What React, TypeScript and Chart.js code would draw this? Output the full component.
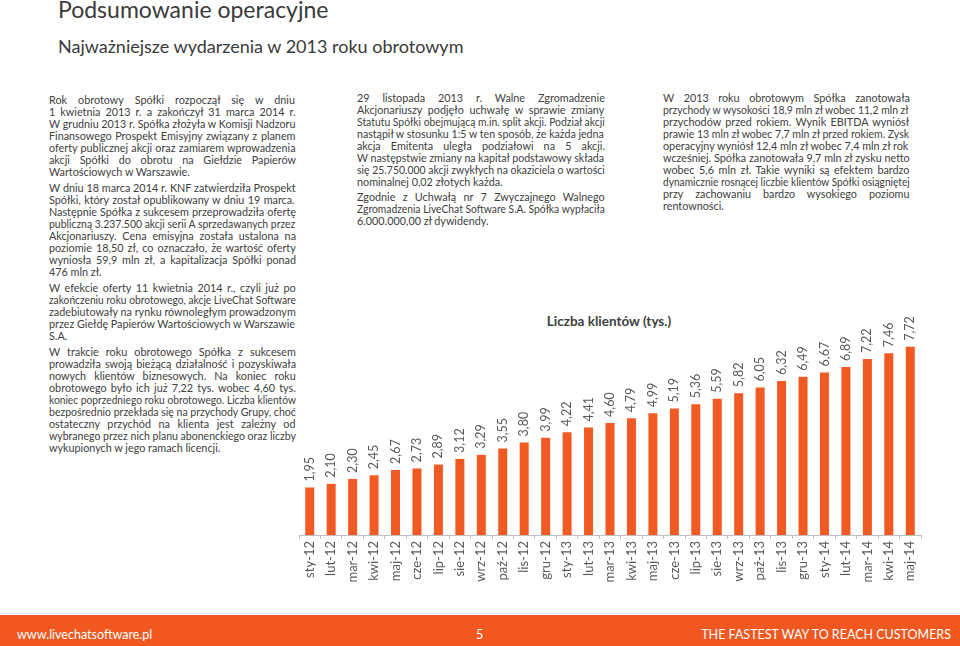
import React, { useEffect, useRef } from 'react';
import { Chart, registerables } from 'chart.js';

Chart.register(...registerables);

const months = [
  'sty-12', 'lut-12', 'mar-12', 'kwi-12', 'maj-12', 'cze-12', 'lip-12', 'sie-12', 'wrz-12', 'paź-12', 'lis-12', 'gru-12',
  'sty-13', 'lut-13', 'mar-13', 'kwi-13', 'maj-13', 'cze-13', 'lip-13', 'sie-13', 'wrz-13', 'paź-13', 'lis-13', 'gru-13',
  'sty-14', 'lut-14', 'mar-14', 'kwi-14', 'maj-14',
];

const clients = [
  1.95, 2.10, 2.30, 2.45, 2.67, 2.73, 2.89, 3.12, 3.29, 3.55, 3.80, 3.99,
  4.22, 4.41, 4.60, 4.79, 4.99, 5.19, 5.36, 5.59, 5.82, 6.05, 6.32, 6.49,
  6.67, 6.89, 7.22, 7.46, 7.72,
];

const chartTitle = 'Liczba klientów (tys.)';
const pageTitle = 'Podsumowanie operacyjne';
const pageSubtitle = 'Najważniejsze wydarzenia w 2013 roku obrotowym';

const leftColumn: string[][] = [
  [
    'Rok obrotowy Spółki rozpoczął się w dniu',
    '1 kwietnia 2013 r. a zakończył 31 marca 2014 r.',
    'W grudniu 2013 r. Spółka złożyła w Komisji Nadzoru',
    'Finansowego Prospekt Emisyjny związany z planem',
    'oferty publicznej akcji oraz zamiarem wprowadzenia',
    'akcji Spółki do obrotu na Giełdzie Papierów',
    'Wartościowych w Warszawie.',
  ],
  [
    'W dniu 18 marca 2014 r. KNF zatwierdziła Prospekt',
    'Spółki, który został opublikowany w dniu 19 marca.',
    'Następnie Spółka z sukcesem przeprowadziła ofertę',
    'publiczną 3.237.500 akcji serii A sprzedawanych przez',
    'Akcjonariuszy. Cena emisyjna została ustalona na',
    'poziomie 18,50 zł, co oznaczało, że wartość oferty',
    'wyniosła 59,9 mln zł, a kapitalizacja Spółki ponad',
    '476 mln zł.',
  ],
  [
    'W efekcie oferty 11 kwietnia 2014 r., czyli już po',
    'zakończeniu roku obrotowego, akcje LiveChat Software',
    'zadebiutowały na rynku równoległym prowadzonym',
    'przez Giełdę Papierów Wartościowych w Warszawie',
    'S.A.',
  ],
  [
    'W trakcie roku obrotowego Spółka z sukcesem',
    'prowadziła swoją bieżącą działalność i pozyskiwała',
    'nowych klientów biznesowych. Na koniec roku',
    'obrotowego było ich już 7,22 tys. wobec 4,60 tys.',
    'koniec poprzedniego roku obrotowego. Liczba klientów',
    'bezpośrednio przekłada się na przychody Grupy, choć',
    'ostateczny przychód na klienta jest zależny od',
    'wybranego przez nich planu abonenckiego oraz liczby',
    'wykupionych w jego ramach licencji.',
  ],
];

const middleColumn: string[][] = [
  [
    '29 listopada 2013 r. Walne Zgromadzenie',
    'Akcjonariuszy podjęło uchwałę w sprawie zmiany',
    'Statutu Spółki obejmującą m.in. split akcji. Podział akcji',
    'nastąpił w stosunku 1:5 w ten sposób, że każda jedna',
    'akcja Emitenta uległa podziałowi na 5 akcji.',
    'W następstwie zmiany na kapitał podstawowy składa',
    'się 25.750.000 akcji zwykłych na okaziciela o wartości',
    'nominalnej 0,02 złotych każda.',
  ],
  [
    'Zgodnie z Uchwałą nr 7 Zwyczajnego Walnego',
    'Zgromadzenia LiveChat Software S.A. Spółka wypłaciła',
    '6.000.000,00 zł dywidendy.',
  ],
];

const rightColumn: string[][] = [
  [
    'W 2013 roku obrotowym Spółka zanotowała',
    'przychody w wysokości 18,9 mln zł wobec 11,2 mln zł',
    'przychodów przed rokiem. Wynik EBITDA wyniósł',
    'prawie 13 mln zł wobec 7,7 mln zł przed rokiem. Zysk',
    'operacyjny wyniósł 12,4 mln zł wobec 7,4 mln zł rok',
    'wcześniej. Spółka zanotowała 9,7 mln zł zysku netto',
    'wobec 5,6 mln zł. Takie wyniki są efektem bardzo',
    'dynamicznie rosnącej liczbie klientów Spółki osiągniętej',
    'przy zachowaniu bardzo wysokiego poziomu',
    'rentowności.',
  ],
];

const TEXT_COLOR = '#404040';
const ORANGE = '#F15A22';
const BODY_FONT_SIZE = 10.8;
const BODY_FONT = `${BODY_FONT_SIZE}px Lato`;

let measureCtx: CanvasRenderingContext2D | null = null;
function measure(text: string, font: string): number {
  if (!measureCtx) {
    const c = document.createElement('canvas');
    measureCtx = c.getContext('2d');
  }
  if (!measureCtx) return 0;
  measureCtx.font = font;
  return measureCtx.measureText(text).width;
}

function JustifiedColumn(props: { paragraphs: string[][]; left: number; top: number; width: number; gap: number }) {
  const { paragraphs, left, top, width, gap } = props;
  return (
    <div style={{ position: 'absolute', left, top, width }}>
      {paragraphs.map((para, pi) => (
        <div key={pi} style={{ marginTop: pi === 0 ? 0 : gap }}>
          {para.map((line, li) => {
            const isLast = li === para.length - 1;
            const w = measure(line, BODY_FONT);
            const spaces = (line.match(/ /g) || []).length;
            let ws = 0;
            let scale = 1;
            if (w > width) {
              scale = width / w;
            } else if (!isLast && spaces > 0) {
              ws = (width - w) / spaces;
            }
            return (
              <div
                key={li}
                style={{
                  height: 12,
                  lineHeight: '12px',
                  whiteSpace: 'nowrap',
                  wordSpacing: `${ws}px`,
                  transform: scale !== 1 ? `scaleX(${scale})` : undefined,
                  transformOrigin: 'left center',
                }}
              >
                {line}
              </div>
            );
          })}
        </div>
      ))}
    </div>
  );
}

const valueLabelPlugin = {
  id: 'valueLabels',
  afterDatasetsDraw(chart: any) {
    const ctx = chart.ctx;
    const meta = chart.getDatasetMeta(0);
    ctx.save();
    ctx.font = '12.5px Lato';
    ctx.fillStyle = '#595959';
    ctx.textAlign = 'left';
    ctx.textBaseline = 'middle';
    meta.data.forEach((bar: any, i: number) => {
      const v = chart.data.datasets[0].data[i] as number;
      const txt = v.toFixed(2).replace('.', ',');
      ctx.save();
      ctx.translate(bar.x, bar.y - 6);
      ctx.rotate(-Math.PI / 2);
      ctx.fillText(txt, 0, 0);
      ctx.restore();
    });
    ctx.restore();
  },
};

function ClientsChart() {
  const ref = useRef<HTMLCanvasElement>(null);
  useEffect(() => {
    if (!ref.current) return;
    const chart = new Chart(ref.current, {
      type: 'bar',
      data: {
        labels: months,
        datasets: [
          {
            data: clients,
            backgroundColor: ORANGE,
            borderWidth: 0,
            categoryPercentage: 1,
            barPercentage: 0.42,
          },
        ],
      },
      options: {
        responsive: false,
        animation: false,
        events: [],
        layout: { padding: { left: 9, right: 9, top: 40, bottom: 0 } },
        plugins: {
          legend: { display: false },
          tooltip: { enabled: false },
          title: { display: false },
        },
        scales: {
          x: {
            grid: {
              offset: true,
              drawOnChartArea: false,
              drawTicks: true,
              tickLength: 4,
              color: '#bfbfbf',
            },
            border: { color: '#bfbfbf', width: 1 },
            ticks: {
              autoSkip: false,
              minRotation: 90,
              maxRotation: 90,
              padding: 2,
              color: '#595959',
              font: { family: 'Lato', size: 13 },
            },
            afterFit: (scale: any) => {
              scale.height = 55;
            },
          },
          y: {
            display: false,
            min: 0,
            max: 8,
          },
        },
      },
      plugins: [valueLabelPlugin],
    } as any);
    return () => chart.destroy();
  }, []);
  return <canvas ref={ref} width={640} height={290} style={{ position: 'absolute', left: 290, top: 300 }} />;
}

export default function App() {
  return (
    <div
      style={{
        position: 'absolute',
        left: 0,
        top: 0,
        width: 960,
        height: 646,
        overflow: 'hidden',
        background: '#ffffff',
        fontFamily: 'Lato, sans-serif',
        color: TEXT_COLOR,
        fontSize: BODY_FONT_SIZE,
      }}
    >
      <div style={{ position: 'absolute', left: 58, top: -2, fontSize: 23, lineHeight: '23px', whiteSpace: 'nowrap', color: '#3a3a3a' }}>
        {pageTitle}
      </div>
      <div style={{ position: 'absolute', left: 58, top: 37, fontSize: 18, lineHeight: '18px', whiteSpace: 'nowrap', color: '#3a3a3a' }}>
        {pageSubtitle}
      </div>

      <JustifiedColumn paragraphs={leftColumn} left={49} top={94} width={247} gap={4} />
      <JustifiedColumn paragraphs={middleColumn} left={357} top={92} width={248} gap={3} />
      <JustifiedColumn paragraphs={rightColumn} left={663} top={92} width={247} gap={4} />

      <div
        style={{
          position: 'absolute',
          left: 509,
          top: 312,
          width: 200,
          textAlign: 'center',
          fontSize: 13.5,
          fontWeight: 700,
          lineHeight: '18px',
          color: '#404040',
          whiteSpace: 'nowrap',
        }}
      >
        {chartTitle}
      </div>

      <ClientsChart />

      <div style={{ position: 'absolute', left: 0, top: 613, width: 960, height: 1, background: '#e6e6e6' }} />
      <div style={{ position: 'absolute', left: 0, top: 615, width: 960, height: 31, background: '#F0581F' }} />
      <div style={{ position: 'absolute', left: 17, top: 627, fontSize: 12.5, lineHeight: '16px', color: '#ffffff', whiteSpace: 'nowrap' }}>
        www.livechatsoftware.pl
      </div>
      <div style={{ position: 'absolute', left: 476, top: 627, fontSize: 12.5, lineHeight: '16px', color: '#ffffff' }}>5</div>
      <div style={{ position: 'absolute', right: 9, top: 627, fontSize: 12.5, lineHeight: '16px', color: '#ffffff', whiteSpace: 'nowrap' }}>
        THE FASTEST WAY TO REACH CUSTOMERS
      </div>
    </div>
  );
}
